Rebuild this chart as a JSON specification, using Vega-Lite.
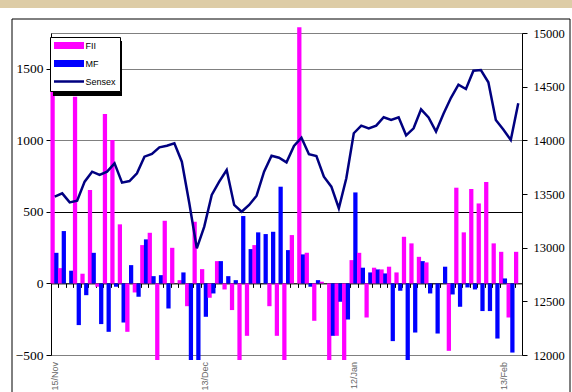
{
  "$schema": "https://vega.github.io/schema/vega-lite/v6.json",
  "width": 471,
  "height": 322,
  "autosize": {"type": "none"},
  "padding": {"left": 51, "top": 33, "right": 50, "bottom": 37},
  "background": "white",
  "config": {"view": {"stroke": "#808080", "strokeWidth": 1}, "font": "Liberation Sans"},
  "data": {"values": [
    {"i": 0, "d": "15/Nov", "FII": 1500, "MF": 214, "Sensex": 13475},
    {"i": 1, "d": "16/Nov", "FII": 107, "MF": 366, "Sensex": 13506},
    {"i": 2, "d": "17/Nov", "FII": 0, "MF": 89, "Sensex": 13422},
    {"i": 3, "d": "20/Nov", "FII": 1305, "MF": -291, "Sensex": 13438},
    {"i": 4, "d": "21/Nov", "FII": 68, "MF": -82, "Sensex": 13615},
    {"i": 5, "d": "22/Nov", "FII": 653, "MF": 214, "Sensex": 13708},
    {"i": 6, "d": "23/Nov", "FII": -23, "MF": -284, "Sensex": 13677},
    {"i": 7, "d": "24/Nov", "FII": 1184, "MF": -338, "Sensex": 13708},
    {"i": 8, "d": "27/Nov", "FII": 1002, "MF": -23, "Sensex": 13786},
    {"i": 9, "d": "28/Nov", "FII": 413, "MF": -273, "Sensex": 13606},
    {"i": 10, "d": "29/Nov", "FII": -338, "MF": 128, "Sensex": 13621},
    {"i": 11, "d": "30/Nov", "FII": -63, "MF": -93, "Sensex": 13693},
    {"i": 12, "d": "1/Dec", "FII": 268, "MF": 308, "Sensex": 13848},
    {"i": 13, "d": "4/Dec", "FII": 354, "MF": 51, "Sensex": 13873},
    {"i": 14, "d": "5/Dec", "FII": -535, "MF": 58, "Sensex": 13935},
    {"i": 15, "d": "6/Dec", "FII": 438, "MF": -175, "Sensex": 13950},
    {"i": 16, "d": "7/Dec", "FII": 249, "MF": 0, "Sensex": 13972},
    {"i": 17, "d": "8/Dec", "FII": 23, "MF": 77, "Sensex": 13801},
    {"i": 18, "d": "11/Dec", "FII": -159, "MF": -535, "Sensex": 13413},
    {"i": 19, "d": "12/Dec", "FII": 431, "MF": -535, "Sensex": 12994},
    {"i": 20, "d": "13/Dec", "FII": 100, "MF": -233, "Sensex": 13196},
    {"i": 21, "d": "14/Dec", "FII": -100, "MF": -70, "Sensex": 13491},
    {"i": 22, "d": "15/Dec", "FII": 156, "MF": 156, "Sensex": 13615},
    {"i": 23, "d": "18/Dec", "FII": -42, "MF": 51, "Sensex": 13724},
    {"i": 24, "d": "19/Dec", "FII": -186, "MF": 23, "Sensex": 13398},
    {"i": 25, "d": "20/Dec", "FII": -535, "MF": 471, "Sensex": 13335},
    {"i": 26, "d": "21/Dec", "FII": -366, "MF": 240, "Sensex": 13398},
    {"i": 27, "d": "22/Dec", "FII": 268, "MF": 357, "Sensex": 13484},
    {"i": 28, "d": "26/Dec", "FII": 0, "MF": 345, "Sensex": 13708},
    {"i": 29, "d": "27/Dec", "FII": -159, "MF": 361, "Sensex": 13857},
    {"i": 30, "d": "28/Dec", "FII": -366, "MF": 676, "Sensex": 13838},
    {"i": 31, "d": "29/Dec", "FII": -535, "MF": 233, "Sensex": 13795},
    {"i": 32, "d": "2/Jan", "FII": 338, "MF": 0, "Sensex": 13947},
    {"i": 33, "d": "3/Jan", "FII": 1790, "MF": 203, "Sensex": 14025},
    {"i": 34, "d": "4/Jan", "FII": 214, "MF": -23, "Sensex": 13870},
    {"i": 35, "d": "5/Jan", "FII": -261, "MF": 23, "Sensex": 13854},
    {"i": 36, "d": "8/Jan", "FII": 12, "MF": 0, "Sensex": 13661},
    {"i": 37, "d": "9/Jan", "FII": -535, "MF": -366, "Sensex": 13568},
    {"i": 38, "d": "10/Jan", "FII": -366, "MF": -128, "Sensex": 13367},
    {"i": 39, "d": "11/Jan", "FII": -535, "MF": -252, "Sensex": 13646},
    {"i": 40, "d": "12/Jan", "FII": 163, "MF": 636, "Sensex": 14066},
    {"i": 41, "d": "15/Jan", "FII": 214, "MF": 110, "Sensex": 14137},
    {"i": 42, "d": "16/Jan", "FII": -238, "MF": 77, "Sensex": 14112},
    {"i": 43, "d": "17/Jan", "FII": 110, "MF": 98, "Sensex": 14137},
    {"i": 44, "d": "18/Jan", "FII": 98, "MF": 70, "Sensex": 14215},
    {"i": 45, "d": "19/Jan", "FII": 117, "MF": -403, "Sensex": 14190},
    {"i": 46, "d": "22/Jan", "FII": 77, "MF": -51, "Sensex": 14215},
    {"i": 47, "d": "23/Jan", "FII": 326, "MF": -535, "Sensex": 14047},
    {"i": 48, "d": "24/Jan", "FII": 280, "MF": -343, "Sensex": 14112},
    {"i": 49, "d": "25/Jan", "FII": 186, "MF": 156, "Sensex": 14289},
    {"i": 50, "d": "29/Jan", "FII": 147, "MF": -70, "Sensex": 14213},
    {"i": 51, "d": "31/Jan", "FII": 0, "MF": -350, "Sensex": 14082},
    {"i": 52, "d": "1/Feb", "FII": 0, "MF": 117, "Sensex": 14247},
    {"i": 53, "d": "2/Feb", "FII": -471, "MF": -77, "Sensex": 14396},
    {"i": 54, "d": "5/Feb", "FII": 669, "MF": -163, "Sensex": 14518},
    {"i": 55, "d": "6/Feb", "FII": 357, "MF": -28, "Sensex": 14478},
    {"i": 56, "d": "7/Feb", "FII": 660, "MF": -42, "Sensex": 14648},
    {"i": 57, "d": "8/Feb", "FII": 559, "MF": -193, "Sensex": 14655},
    {"i": 58, "d": "9/Feb", "FII": 709, "MF": -193, "Sensex": 14541},
    {"i": 59, "d": "12/Feb", "FII": 280, "MF": -385, "Sensex": 14190},
    {"i": 60, "d": "13/Feb", "FII": 221, "MF": 35, "Sensex": 14101},
    {"i": 61, "d": "14/Feb", "FII": -238, "MF": -483, "Sensex": 14003},
    {"i": 62, "d": "15/Feb", "FII": 221, "MF": 0, "Sensex": 14345}
  ]},
  "encoding": {
    "x": {
      "field": "d",
      "type": "ordinal",
      "sort": {"field": "i", "op": "min"},
      "scale": {"paddingInner": 0, "paddingOuter": 0},
      "axis": {
        "title": null,
        "offset": -71.6,
        "tickBand": "extent",
        "tickSize": 4,
        "tickColor": "black",
        "domainColor": "black",
        "grid": false,
        "labelAngle": -90,
        "labelFontSize": 9,
        "labelColor": "#666666",
        "labelPadding": 74,
        "labelOverlap": false,
        "labelExpr": "indexof(['15/Nov','13/Dec','12/Jan','13/Feb'], datum.value) >= 0 ? datum.value : ''"
      }
    }
  },
  "layer": [
    {
      "mark": {"type": "point", "size": 0, "filled": true, "color": "black"},
      "encoding": {
        "shape": {
          "datum": "shadow",
          "scale": {"domain": ["shadow"], "range": ["M-1,-0.797H1V0.797H-1Z"]},
          "legend": {
            "orient": "none",
            "legendX": 2,
            "legendY": 1,
            "title": null,
            "labelExpr": "''",
            "padding": 0,
            "symbolSize": 4761,
            "symbolOpacity": 1,
            "symbolFillColor": "black",
            "symbolStrokeWidth": 0,
            "encode": {"symbols": {"update": {
              "x": {"value": 34.5},
              "y": {"value": 27.5},
              "fill": {"value": "black"},
              "opacity": {"value": 1},
              "strokeWidth": {"value": 0}
            }}}
          }
        }
      }
    },
    {
      "transform": [{"fold": ["FII", "MF"], "as": ["series", "value"]}],
      "mark": {"type": "bar", "clip": false, "width": {"band": 1.14}},
      "encoding": {
        "xOffset": {"field": "series", "type": "nominal", "sort": ["FII", "MF"], "scale": {"paddingInner": 0, "paddingOuter": 0}},
        "y": {
          "field": "value",
          "type": "quantitative",
          "scale": {"domain": [-500, 1750], "nice": false, "zero": false},
          "axis": {
            "title": null,
            "format": "d",
            "values": [-500, 0, 500, 1000, 1500],
            "grid": true,
            "gridColor": {"condition": {"test": "datum.value === 500", "value": "#000000"}, "value": "#808080"},
            "domainColor": "black",
            "tickColor": "black",
            "tickSize": 5,
            "labelFont": "Liberation Serif",
            "labelFontSize": 13.5,
            "labelColor": "black",
            "labelPadding": 3
          }
        },
        "color": {
          "field": "series",
          "type": "nominal",
          "scale": {"domain": ["FII", "MF", "Sensex"], "range": ["#ff00ff", "#0000ff", "#000080"]},
          "legend": {
            "orient": "none",
            "legendX": -1,
            "legendY": 4,
            "title": null,
            "symbolType": "M-5,-1.17H5V1.17H-5Z",
            "symbolSize": 36,
            "symbolStrokeWidth": 0,
            "labelFont": "Liberation Sans",
            "labelFontSize": 9,
            "labelColor": "black",
            "labelOffset": 2,
            "fillColor": "white",
            "strokeColor": "black",
            "padding": 4,
            "rowPadding": 8,
            "encode": {
              "symbols": {"update": {
                "x": {"value": 15},
                "fill": {"scale": "color", "field": "value"},
                "strokeWidth": {"value": 0},
                "shape": {"signal": "datum.value === 'Sensex' ? 'M-5,-0.42H5V0.42H-5Z' : 'M-5,-1.17H5V1.17H-5Z'"}
              }},
              "labels": {"update": {"x": {"value": 31.5}}}
            }
          }
        }
      }
    },
    {
      "mark": {"type": "line", "strokeWidth": 2.5},
      "encoding": {
        "y": {
          "field": "Sensex",
          "type": "quantitative",
          "scale": {"domain": [12000, 15000], "nice": false, "zero": false},
          "axis": {
            "orient": "right",
            "title": null,
            "format": "d",
            "values": [12000, 12500, 13000, 13500, 14000, 14500, 15000],
            "grid": false,
            "domainColor": "black",
            "tickColor": "black",
            "tickSize": 5,
            "labelFont": "Liberation Serif",
            "labelFontSize": 12.5,
            "labelColor": "black",
            "labelPadding": 6
          }
        },
        "color": {"datum": "Sensex"}
      }
    },
    {
      "mark": {"type": "point", "opacity": 0},
      "encoding": {
        "stroke": {
          "field": "Sensex",
          "type": "quantitative",
          "scale": {"range": ["#ffffff", "#ffffff"]},
          "legend": {
            "type": "gradient",
            "direction": "horizontal",
            "orient": "none",
            "legendX": -39,
            "legendY": -14,
            "gradientLength": 558,
            "gradientThickness": 390,
            "gradientStrokeColor": "black",
            "gradientStrokeWidth": 1,
            "labelExpr": "''",
            "title": null,
            "padding": 0,
            "encode": {"gradient": {"update": {"fill": {"value": "transparent"}}}}
          }
        }
      }
    },
    {
      "mark": {"type": "point", "opacity": 0},
      "encoding": {
        "fill": {
          "field": "MF",
          "type": "quantitative",
          "scale": {"range": ["#ddcca6", "#ddcca6"]},
          "legend": {
            "type": "gradient",
            "direction": "horizontal",
            "orient": "none",
            "legendX": -51,
            "legendY": -33,
            "gradientLength": 572,
            "gradientThickness": 8,
            "gradientStrokeWidth": 0,
            "labelExpr": "''",
            "title": null,
            "padding": 0
          }
        }
      }
    }
  ],
  "resolve": {"scale": {"y": "independent"}}
}
